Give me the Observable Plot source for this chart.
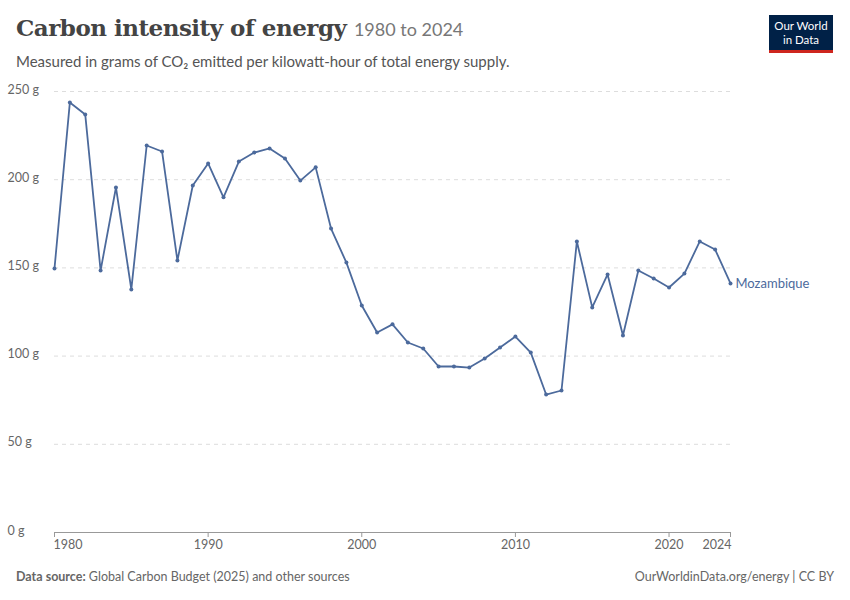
<!DOCTYPE html>
<html><head><meta charset="utf-8">
<script src="https://cdn.jsdelivr.net/npm/d3@7"></script>
<script src="https://cdn.jsdelivr.net/npm/@observablehq/plot@0.6"></script>
<style>
body{margin:0;background:#fff;font-family:Lato,sans-serif;}
#wrap{position:relative;width:850px;height:600px;}
h1{position:absolute;left:16px;top:14px;margin:0;font-family:"DejaVu Serif",serif;font-weight:bold;font-size:23px;color:#444;letter-spacing:-0.5px}
h1 span{font-family:Lato,sans-serif;font-weight:normal;font-size:18px;color:#777;letter-spacing:0}
.sub{position:absolute;left:16px;top:52px;font-size:15px;color:#555}
#chart{position:absolute;left:0;top:78px}
.foot{position:absolute;top:569px;font-size:12.5px;color:#666}
.logo{position:absolute;left:769px;top:15px;width:64px;height:38px;background:#002147;color:#fff;font-size:11.5px;text-align:center;line-height:14px;padding-top:4px;box-sizing:border-box;border-bottom:3px solid #ce261e}
</style></head><body>
<div id="wrap">
<h1>Carbon intensity of energy <span>1980 to 2024</span></h1>
<div class="sub">Measured in grams of CO₂ emitted per kilowatt-hour of total energy supply.</div>
<div id="chart"></div>
<div class="logo">Our World<br>in Data</div>
<div class="foot" style="left:16px"><b>Data source:</b> Global Carbon Budget (2025) and other sources</div>
<div class="foot" style="right:16px">OurWorldinData.org/energy | CC BY</div>
</div>
<script>
const years = d3.range(1980, 2025);
const values = [149.7,243.8,237,148.5,195.6,137.8,219.4,216,154.2,196.7,209.2,190,210.3,215.4,217.7,212,199.5,207,172.3,153,128.7,113.4,118,107.7,104.3,94.1,94.1,93.5,98.6,104.9,111.1,102,78.2,80.5,165,127.6,146.3,111.7,148.5,144,138.9,146.8,165,160.4,141.2];
const yTicks = [0,50,100,150,200,250];
const xTicks = [1980,1990,2000,2010,2020,2024];
const entity = "Mozambique";
const data = years.map((y,i)=>({year:y,value:values[i]}));
const color = "#4c6a9c";
const last = data[data.length-1];
const chart = Plot.plot({
  width:850, height:479,
  marginLeft:54, marginRight:120, marginTop:13, marginBottom:25,
  style:{fontFamily:"Lato,sans-serif",fontSize:"12.5px",color:"#666"},
  x:{domain:[1980,2024], label:null},
  y:{domain:[0,250], label:null},
  marks:[
    Plot.gridY(yTicks.filter(d=>d>0),{stroke:"#ddd",strokeOpacity:1,strokeDasharray:"4,4"}),
    Plot.ruleY([0],{stroke:"#999"}),
    Plot.axisY({ticks:yTicks,tickSize:0,textAnchor:"start",dx:-38,dy:-2,tickFormat:d=>d+" g",fill:"#666"}),
    Plot.axisX({ticks:xTicks,tickSize:5,stroke:"#999",text:null}),
    Plot.axisX({ticks:[xTicks[0]],tickSize:0,tickPadding:8,textAnchor:"start",dx:-1,fill:"#666",tickFormat:d=>String(d)}),
    Plot.axisX({ticks:xTicks.slice(1,-1),tickSize:0,tickPadding:8,fill:"#666",tickFormat:d=>String(d)}),
    Plot.axisX({ticks:[xTicks[xTicks.length-1]],tickSize:0,tickPadding:8,textAnchor:"end",dx:1,fill:"#666",tickFormat:d=>String(d)}),
    Plot.line(data,{x:"year",y:"value",stroke:color,strokeWidth:1.8}),
    Plot.dot(data,{x:"year",y:"value",fill:color,r:2}),
    Plot.text([last],{x:"year",y:"value",text:()=>entity,textAnchor:"start",dx:5,fill:color,fontSize:13})
  ]
});
document.getElementById("chart").appendChild(chart);
</script>
</body></html>
